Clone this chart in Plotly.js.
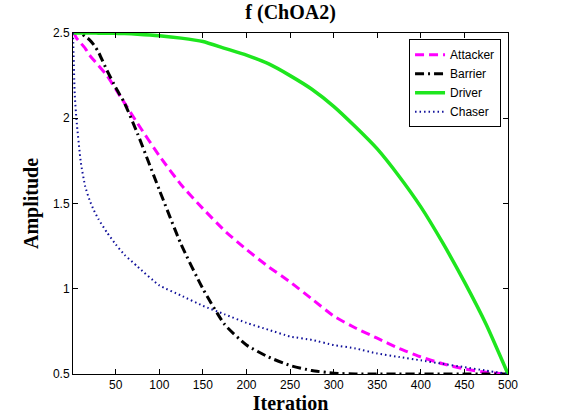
<!DOCTYPE html>
<html>
<head>
<meta charset="utf-8">
<script src="https://cdn.plot.ly/plotly-3.0.1.min.js"></script>
<style>
  html, body { margin: 0; padding: 0; background: #fff; }
  #chart { width: 561px; height: 420px; }
</style>
</head>
<body>
<div id="chart"></div>
<script>
// iteration sample points
var iter = [1, 3, 5, 10, 15, 20, 25, 30, 40, 50, 60, 75, 100, 125, 150, 175, 200,
            225, 250, 275, 300, 325, 350, 375, 400, 425, 450, 475, 500];

var attacker = [2.50, 2.49, 2.47, 2.44, 2.41, 2.37, 2.34, 2.31, 2.25, 2.17, 2.09, 1.97, 1.78,
                1.61, 1.47, 1.34, 1.23, 1.13, 1.04, 0.94, 0.84, 0.77, 0.71, 0.65, 0.60,
                0.56, 0.53, 0.51, 0.50];
var barrier  = [2.54, 2.53, 2.52, 2.50, 2.48, 2.46, 2.43, 2.39, 2.28, 2.18, 2.09, 1.91, 1.58,
                1.26, 1.00, 0.79, 0.67, 0.60, 0.55, 0.52, 0.505, 0.50, 0.50, 0.50, 0.50,
                0.50, 0.50, 0.50, 0.50];
var driver   = [2.50, 2.50, 2.50, 2.50, 2.50, 2.50, 2.50, 2.499, 2.499, 2.498, 2.497, 2.493, 2.484,
                2.47, 2.45, 2.41, 2.37, 2.32, 2.25, 2.17, 2.07, 1.95, 1.82, 1.66, 1.48,
                1.27, 1.04, 0.79, 0.50];
var chaser   = [2.50, 2.14, 1.99, 1.74, 1.60, 1.52, 1.46, 1.41, 1.33, 1.26, 1.20, 1.13, 1.02,
                0.96, 0.90, 0.85, 0.80, 0.76, 0.72, 0.70, 0.67, 0.65, 0.62, 0.60, 0.58,
                0.56, 0.54, 0.52, 0.50];

var xTicks = [50, 100, 150, 200, 250, 300, 350, 400, 450, 500];
var yTicks = [0.5, 1, 1.5, 2, 2.5];
var yTickText = ['0.5', '1', '1.5', '2', '2.5'];

var traces = [
  {x: iter, y: attacker, name: 'Attacker', type: 'scatter', mode: 'lines',
   line: {color: '#ff00ff', width: 3, dash: '9px,5px', shape: 'spline', smoothing: 0.5}},
  {x: iter, y: barrier, name: 'Barrier', type: 'scatter', mode: 'lines',
   line: {color: '#000000', width: 3, dash: '9px,4px,2px,4px', shape: 'spline', smoothing: 0.5}},
  {x: iter, y: driver, name: 'Driver', type: 'scatter', mode: 'lines',
   line: {color: '#1ee61e', width: 3.5, shape: 'spline', smoothing: 0.5}},
  {x: iter, y: chaser, name: 'Chaser', type: 'scatter', mode: 'lines',
   line: {color: '#10109a', width: 2, dash: '1.5px,3px', shape: 'spline', smoothing: 0.5}}
];

var tickFont = {family: 'Liberation Sans, Arial, sans-serif', size: 12, color: '#000'};
var labelFont = {family: 'Liberation Serif, Times New Roman, serif', size: 20, color: '#000', weight: 'bold'};

var layout = {
  width: 561,
  height: 420,
  paper_bgcolor: '#fff',
  plot_bgcolor: '#fff',
  margin: {l: 73, r: 53, t: 33, b: 46, pad: 0},
  title: {text: '<b>f (ChOA2)</b>', x: 0.518, xanchor: 'center', y: 0.972, yanchor: 'middle',
          font: {family: 'Liberation Serif, Times New Roman, serif', size: 20, color: '#000'}},
  xaxis: {
    range: [1, 500], tickvals: xTicks, ticks: 'inside', ticklen: 5, tickcolor: '#000',
    showline: true, linecolor: '#000', linewidth: 1, mirror: 'ticks',
    showgrid: false, zeroline: false, tickfont: tickFont,
    title: {text: '<b>Iteration</b>', font: labelFont, standoff: 4}
  },
  yaxis: {
    range: [0.5, 2.5], tickvals: yTicks, ticktext: yTickText, ticks: 'inside', ticklen: 5,
    tickcolor: '#000', showline: true, linecolor: '#000', linewidth: 1, mirror: 'ticks',
    showgrid: false, zeroline: false, tickfont: tickFont,
    title: {text: '<b>Amplitude</b>', font: labelFont, standoff: 8}
  },
  legend: {
    x: 0.984, xanchor: 'right', y: 0.982, yanchor: 'top',
    bgcolor: '#fff', bordercolor: '#000', borderwidth: 1,
    font: {family: 'Liberation Sans, Arial, sans-serif', size: 12, color: '#000'},
    tracegroupgap: 0, itemwidth: 30
  },
  showlegend: true
};

Plotly.newPlot('chart', traces, layout, {displayModeBar: false, staticPlot: true});
</script>
</body>
</html>
